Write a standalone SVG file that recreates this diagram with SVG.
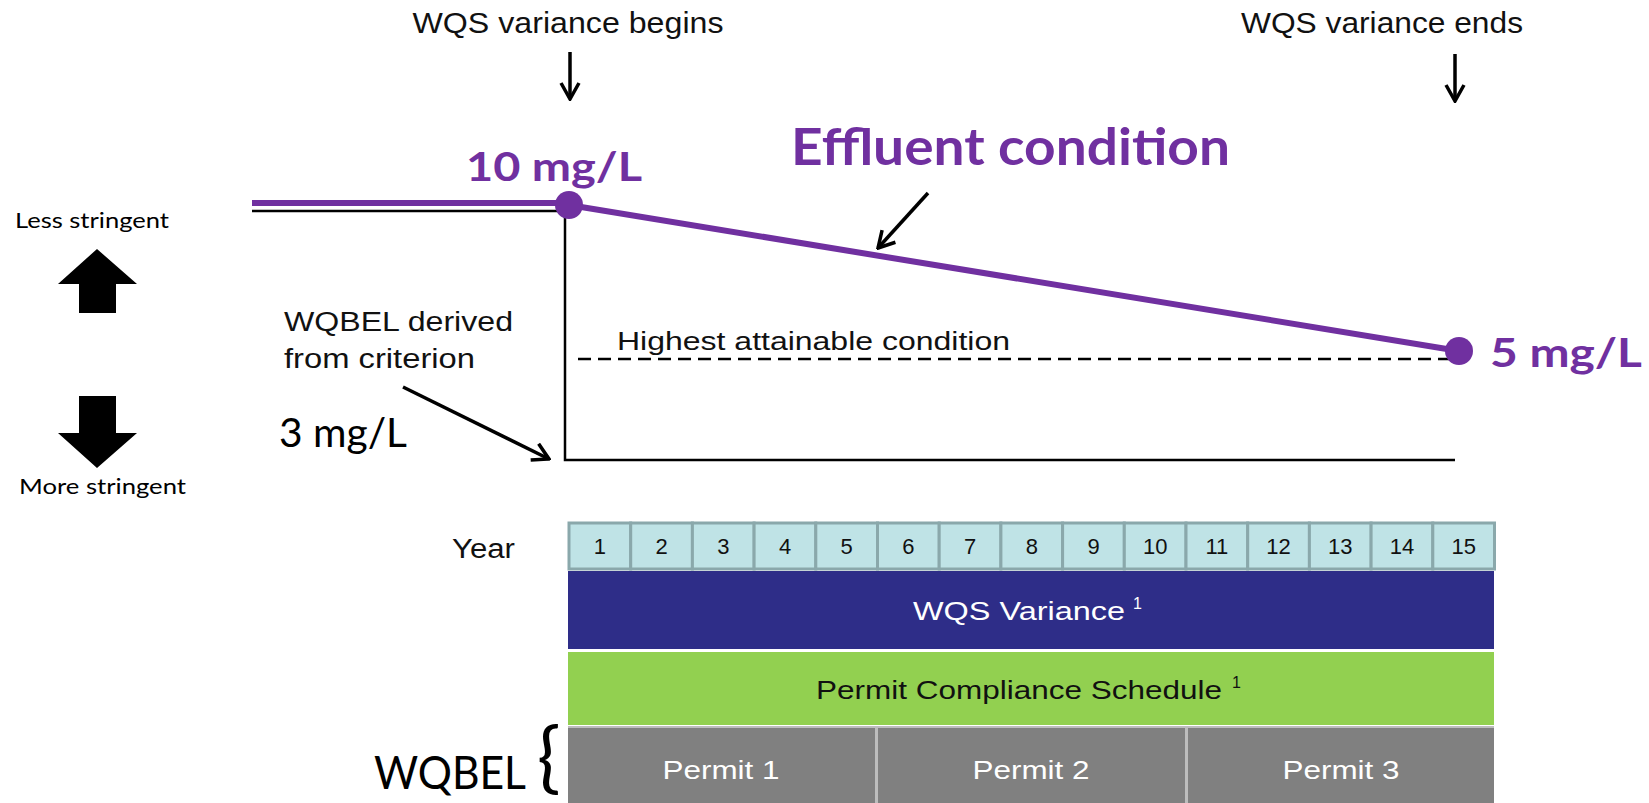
<svg xmlns="http://www.w3.org/2000/svg" width="1649" height="803" viewBox="0 0 1649 803">
<defs>
<marker id="vh" viewBox="0 0 20 22" refX="18" refY="11" markerWidth="20" markerHeight="22" markerUnits="userSpaceOnUse" orient="auto">
<path d="M2,2 L18,11 L2,20" fill="none" stroke="#000" stroke-width="3.5" stroke-linejoin="miter"/>
</marker>
<style>
.a{font-family:"Liberation Sans",Arial,sans-serif;fill:#111}
.g{font-family:Lato,"Open Sans",sans-serif;fill:#000}
.p{font-family:Lato,"Open Sans",sans-serif;font-weight:bold;fill:#7030A0}
.yc{fill:#BFE3E6;stroke:#8AA8AB;stroke-width:3}
.yt{font-family:"Liberation Sans",Arial,sans-serif;font-size:22px;fill:#111;text-anchor:middle}
.pc{fill:#808080}
.pt{font-family:"Liberation Sans",Arial,sans-serif;font-size:25px;fill:#fff;text-anchor:middle}
.ln{stroke:#000;fill:none}
</style>
</defs>
<rect width="1649" height="803" fill="#fff"/>

<g id="labels-top">
<text class="a" x="568" y="33" font-size="29" text-anchor="middle" textLength="311" lengthAdjust="spacingAndGlyphs">WQS variance begins</text>
<text class="a" x="1382" y="33" font-size="29" text-anchor="middle" textLength="282" lengthAdjust="spacingAndGlyphs">WQS variance ends</text>
</g>

<g id="stringency">
<text class="g" x="15" y="228" font-size="22" textLength="154" lengthAdjust="spacingAndGlyphs">Less stringent</text>
<polygon points="97,249 137,284 116,284 116,313 79,313 79,284 58,284" fill="#000"/>
<polygon points="79,396 116,396 116,433 137,433 97,468 58,433 79,433" fill="#000"/>
<text class="g" x="19" y="494" font-size="22" textLength="167" lengthAdjust="spacingAndGlyphs">More stringent</text>
</g>

<g id="wqbel-label">
<text class="a" x="284" y="331" font-size="27" textLength="229" lengthAdjust="spacingAndGlyphs">WQBEL derived</text>
<text class="a" x="284" y="368" font-size="27" textLength="191" lengthAdjust="spacingAndGlyphs">from criterion</text>
<text class="g" x="279" y="447" font-size="40" textLength="128" lengthAdjust="spacingAndGlyphs">3 mg/L</text>
</g>

<g id="chart-axes">
<path class="ln" d="M252,211 H565 V460 H1455" stroke-width="2.5" stroke="#333"/>
<line class="ln" x1="578" y1="359" x2="1455" y2="359" stroke-width="2.5" stroke-dasharray="13,7"/>
<text class="a" x="617" y="350" font-size="26" textLength="393" lengthAdjust="spacingAndGlyphs">Highest attainable condition</text>
</g>

<g id="effluent">
<polyline points="252,203 560,203 569,205 1459,351" fill="none" stroke="#7030A0" stroke-width="6"/>
<circle cx="569" cy="205" r="14" fill="#7030A0"/>
<circle cx="1459" cy="351" r="14" fill="#7030A0"/>
<text class="p" x="466" y="181" font-size="41" textLength="176" lengthAdjust="spacingAndGlyphs">10 mg/L</text>
<text class="p" x="1490" y="367" font-size="41" textLength="152" lengthAdjust="spacingAndGlyphs">5 mg/L</text>
<text class="p" x="791" y="165" font-size="51" textLength="439" lengthAdjust="spacingAndGlyphs">Effluent condition</text>
</g>

<g id="connectors">
<line class="ln" x1="570" y1="52" x2="570" y2="99" stroke-width="3.5" marker-end="url(#vh)"/>
<line class="ln" x1="1455" y1="54" x2="1455" y2="101" stroke-width="3.5" marker-end="url(#vh)"/>
<line class="ln" x1="928" y1="193" x2="878" y2="248" stroke-width="3.5" marker-end="url(#vh)"/>
<line class="ln" x1="403" y1="387" x2="549" y2="459" stroke-width="3.5" marker-end="url(#vh)"/>
</g>

<g id="year-row">
<text class="a" x="452" y="558" font-size="27" textLength="63" lengthAdjust="spacingAndGlyphs">Year</text>
<rect class="yc" x="569" y="523" width="61.7" height="46"/>
<rect class="yc" x="630.7" y="523" width="61.7" height="46"/>
<rect class="yc" x="692.4" y="523" width="61.7" height="46"/>
<rect class="yc" x="754.1" y="523" width="61.7" height="46"/>
<rect class="yc" x="815.8" y="523" width="61.7" height="46"/>
<rect class="yc" x="877.5" y="523" width="61.7" height="46"/>
<rect class="yc" x="939.2" y="523" width="61.7" height="46"/>
<rect class="yc" x="1000.9" y="523" width="61.7" height="46"/>
<rect class="yc" x="1062.6" y="523" width="61.7" height="46"/>
<rect class="yc" x="1124.3" y="523" width="61.7" height="46"/>
<rect class="yc" x="1186" y="523" width="61.7" height="46"/>
<rect class="yc" x="1247.7" y="523" width="61.7" height="46"/>
<rect class="yc" x="1309.4" y="523" width="61.7" height="46"/>
<rect class="yc" x="1371.1" y="523" width="61.7" height="46"/>
<rect class="yc" x="1432.8" y="523" width="61.7" height="46"/>
<text class="yt" x="599.9" y="554">1</text>
<text class="yt" x="661.6" y="554">2</text>
<text class="yt" x="723.3" y="554">3</text>
<text class="yt" x="785" y="554">4</text>
<text class="yt" x="846.7" y="554">5</text>
<text class="yt" x="908.4" y="554">6</text>
<text class="yt" x="970.1" y="554">7</text>
<text class="yt" x="1031.8" y="554">8</text>
<text class="yt" x="1093.5" y="554">9</text>
<text class="yt" x="1155.2" y="554">10</text>
<text class="yt" x="1216.9" y="554">11</text>
<text class="yt" x="1278.6" y="554">12</text>
<text class="yt" x="1340.3" y="554">13</text>
<text class="yt" x="1402" y="554">14</text>
<text class="yt" x="1463.7" y="554">15</text>
</g>

<g id="wqs-variance">
<rect x="568" y="571" width="926" height="78" fill="#2E2D88"/>
<text x="913" y="620" font-family="Liberation Sans,Arial,sans-serif" font-size="26" fill="#fff" textLength="212" lengthAdjust="spacingAndGlyphs">WQS Variance</text>
<text x="1133" y="609" font-family="Liberation Sans,Arial,sans-serif" font-size="16" fill="#fff">1</text>
</g>

<g id="compliance">
<rect x="568" y="652" width="926" height="73" fill="#92D050"/>
<text x="816" y="699" font-family="Liberation Sans,Arial,sans-serif" font-size="26" fill="#111" textLength="406" lengthAdjust="spacingAndGlyphs">Permit Compliance Schedule</text>
<text x="1232" y="688" font-family="Liberation Sans,Arial,sans-serif" font-size="16" fill="#111">1</text>
</g>

<g id="permits">
<rect class="pc" x="568" y="728" width="307" height="75"/>
<rect class="pc" x="878" y="728" width="307" height="75"/>
<rect class="pc" x="1188" y="728" width="306" height="75"/>
<line x1="876.5" y1="728" x2="876.5" y2="803" stroke="#bdbdbd" stroke-width="3"/>
<line x1="1186.5" y1="728" x2="1186.5" y2="803" stroke="#bdbdbd" stroke-width="3"/>
<line x1="568" y1="727" x2="1494" y2="727" stroke="#bdbdbd" stroke-width="2"/>
<text class="pt" x="721" y="779" textLength="117" lengthAdjust="spacingAndGlyphs">Permit 1</text>
<text class="pt" x="1031" y="779" textLength="117" lengthAdjust="spacingAndGlyphs">Permit 2</text>
<text class="pt" x="1341" y="779" textLength="117" lengthAdjust="spacingAndGlyphs">Permit 3</text>
</g>

<g id="wqbel-brace">
<text class="g" x="374" y="789" font-size="46" textLength="152" lengthAdjust="spacingAndGlyphs">WQBEL</text>
<text class="g" x="537" y="784" font-size="78">{</text>
</g>
</svg>
